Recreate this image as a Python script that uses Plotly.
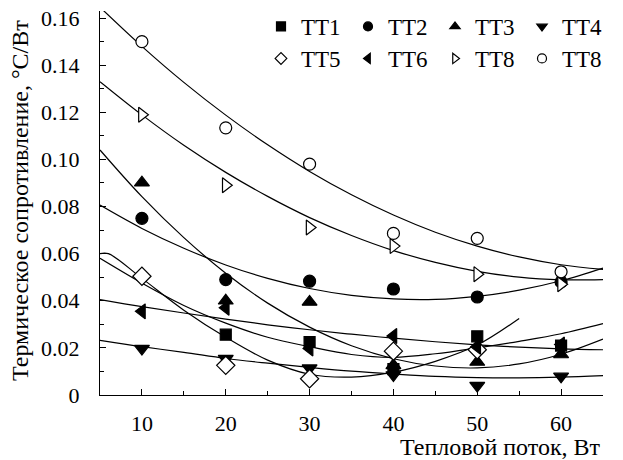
import plotly.graph_objects as go

# ---- data ----
x_pts = [10, 20, 30, 40, 50, 60]
tt1 = [None, 0.0256, 0.0225, 0.0110, 0.0249, 0.0210]
tt2 = [0.0750, 0.0490, 0.0483, 0.0450, 0.0416, 0.0480]
tt3 = [0.0901, 0.0400, 0.0395, 0.0126, 0.0140, 0.0172]
tt4 = [0.0197, 0.0154, 0.0114, 0.0085, 0.0040, 0.0079]
tt5 = [0.0504, 0.0126, 0.0069, 0.0186, 0.0192, None]
tt6 = [0.0355, 0.0370, 0.0197, 0.0250, 0.0205, 0.0214]
tt8_tri = [0.1190, 0.0890, 0.0711, 0.0632, 0.0513, 0.0470]
tt8_circ = [0.1500, 0.1134, 0.0980, 0.0686, 0.0665, 0.0523]

# trend curves
cx = [5, 10, 15, 20, 25, 30, 35, 40, 45, 50, 55, 60, 65]
curve_a = [0.1646, 0.1480, 0.1327, 0.1188, 0.1062, 0.0949, 0.0850, 0.0764, 0.0691, 0.0632, 0.0586, 0.0553, 0.0533]
curve_b = [0.1330, 0.1189, 0.1060, 0.0945, 0.0843, 0.0753, 0.0677, 0.0613, 0.0563, 0.0525, 0.0500, 0.0489, 0.0490]
curve_c = [0.0806, 0.0707, 0.0623, 0.0552, 0.0495, 0.0452, 0.0423, 0.0408, 0.0406, 0.0419, 0.0445, 0.0485, 0.0539]
curve_d = [0.1040, 0.0842, 0.0668, 0.0517, 0.0390, 0.0288, 0.0209, 0.0154, 0.0123, 0.0115, 0.0132, 0.0173, 0.0237]
curve_f = [0.0580, 0.0475, 0.0380, 0.0305, 0.0245, 0.0205, 0.0172, 0.0160, 0.0175, 0.0200, 0.0228, 0.0260, 0.0303]
curve_g = [0.0405, 0.0375, 0.0348, 0.0322, 0.0298, 0.0277, 0.0258, 0.0241, 0.0226, 0.0213, 0.0203, 0.0196, 0.0192]
curve_h = [0.0232, 0.0205, 0.0181, 0.0155, 0.0135, 0.0117, 0.0101, 0.0089, 0.0079, 0.0074, 0.0073, 0.0076, 0.0082]
ex = [5, 6, 10, 15, 20, 25, 30, 35, 40, 45, 50, 55]
curve_e = [0.0600, 0.0600, 0.0495, 0.0360, 0.0245, 0.0148, 0.0088, 0.0076, 0.0097, 0.0143, 0.0212, 0.0325]

x_ticks = [10, 20, 30, 40, 50, 60]
y_ticks = [0, 0.02, 0.04, 0.06, 0.08, 0.10, 0.12, 0.14, 0.16]
y_tick_text = ["0", "0.02", "0.04", "0.06", "0.08", "0.10", "0.12", "0.14", "0.16"]

series = [
    ("TT1", tt1, "square", "black", 11),
    ("TT2", tt2, "circle", "black", 12),
    ("TT3", tt3, "triangle-up", "black", 13),
    ("TT4", tt4, "triangle-down", "black", 13),
    ("TT5", tt5, "diamond", "white", 14),
    ("TT6", tt6, "triangle-left", "black", 13),
    ("TT8", tt8_tri, "triangle-right", "white", 13),
    ("TT8", tt8_circ, "circle", "white", 12),
]

FONT = "Liberation Serif, Times New Roman, serif"
fig = go.Figure()

for xs, ys in [(cx, curve_a), (cx, curve_b), (cx, curve_c), (cx, curve_d),
               (ex, curve_e), (cx, curve_f), (cx, curve_g), (cx, curve_h)]:
    fig.add_trace(go.Scatter(x=xs, y=ys, mode="lines", showlegend=False,
                             line=dict(color="black", width=1.2, shape="spline"),
                             hoverinfo="skip"))

for i, (name, ys, sym, fill, size) in enumerate(series):
    fig.add_trace(go.Scatter(x=x_pts, y=ys, mode="markers", showlegend=False,
                             marker=dict(symbol=sym, color=fill, size=size,
                                         line=dict(color="black", width=1.2))))
    fig.add_trace(go.Scatter(x=[None], y=[None], mode="markers", name=name,
                             legend="legend" if i < 4 else "legend2",
                             marker=dict(symbol=sym, color=fill, size=9,
                                         line=dict(color="black", width=1.2))))

axis_common = dict(showline=True, linecolor="black", linewidth=1.2, ticks="inside",
                   tickcolor="black", ticklen=6, tickwidth=1.2, showgrid=False,
                   zeroline=False, mirror=False, automargin=False,
                   tickfont=dict(family=FONT, size=22, color="black"))

fig.update_layout(
    width=623, height=460,
    margin=dict(l=100, r=20, t=11, b=65, autoexpand=False),
    font=dict(family=FONT, color="black"),
    paper_bgcolor="white", plot_bgcolor="white",
    xaxis=dict(range=[5, 65], tickvals=x_ticks, ticklabelstandoff=8,
               minor=dict(tickvals=[5, 15, 25, 35, 45, 55, 65], ticks="inside",
                          ticklen=4, tickcolor="black", tickwidth=1.2),
               **axis_common),
    yaxis=dict(range=[0, 0.163], tickvals=y_ticks, ticktext=y_tick_text,
               ticklabelstandoff=15,
               minor=dict(tickvals=[0.01, 0.03, 0.05, 0.07, 0.09, 0.11, 0.13, 0.15],
                          ticks="inside", ticklen=4, tickcolor="black", tickwidth=1.2),
               **axis_common),
    legend=dict(orientation="h", x=(261 - 100) / 503, y=1 + 6 / 384,
                xanchor="left", yanchor="top",
                entrywidth=42, font=dict(family=FONT, size=23, color="black"),
                bgcolor="rgba(0,0,0,0)", tracegroupgap=0),
    legend2=dict(orientation="h", x=(261 - 100) / 503, y=1 - 26 / 384,
                 xanchor="left", yanchor="top",
                 entrywidth=42, font=dict(family=FONT, size=23, color="black"),
                 bgcolor="rgba(0,0,0,0)", tracegroupgap=0),
    annotations=[
        dict(text="Тепловой поток, Вт", xref="paper", yref="paper", x=1, y=0,
             xanchor="right", yanchor="middle", yshift=-52, showarrow=False,
             font=dict(family=FONT, size=24, color="black")),
        dict(text="Термическое сопротивление, °С/Вт", xref="paper", yref="paper",
             x=-80 / 503, y=1 - (201 - 11) / 384, xanchor="center", yanchor="middle",
             textangle=-90, showarrow=False,
             font=dict(family=FONT, size=24, color="black")),
    ],
)

fig.write_html("out.html")
